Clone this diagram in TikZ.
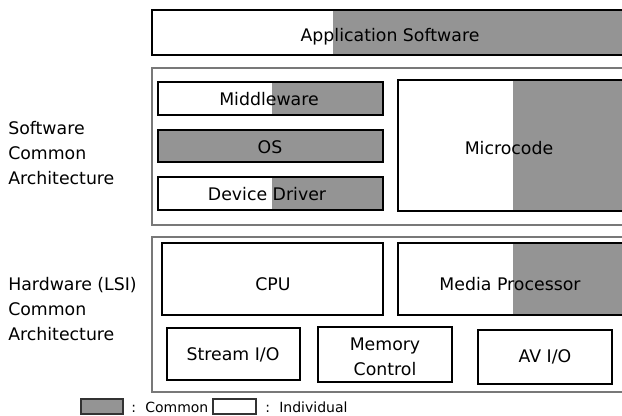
\documentclass[tikz,border=0pt]{standalone}
\usepackage{fontspec}
\setmainfont{DejaVu Sans}
\usetikzlibrary{fit}
\definecolor{cgray}{RGB}{148,148,148}
\definecolor{framegray}{RGB}{120,120,120}
\begin{document}
\begin{tikzpicture}[x=0.75pt,y=-0.75pt,
  box/.style={draw=black, line width=2pt, inner sep=0pt},
  txt/.style={inner sep=0pt, font=\fontsize{13}{18.5}\selectfont, align=center},
  outerbox/.style={draw=framegray, line width=1.1pt, inner sep=0pt},
  sharefill/.style={fill=cgray},
  lbl/.style={font=\fontsize{13}{18.75}\selectfont, align=left, anchor=west, inner sep=0pt},
  leg/.style={font=\fontsize{10.5}{12}\selectfont, anchor=west, inner sep=0pt},
  legbox/.style={draw=black!80, line width=0.8pt, inner sep=0pt}]
\useasboundingbox (0,0) rectangle (622,416);

% Application software
\fill[sharefill] (333,10) rectangle (626,55);
\node[box, fit={(152,10) (626,55)}] (app) {};
\node[txt] at (390,37) (apptext) {Application Software};

% Software common architecture
\node[outerbox, fit={(152,68) (626,225)}] (sw) {};
\fill[sharefill] (272,82) rectangle (383,115);
\node[box, fit={(158,82) (383,115)}] (mw) {};
\node[txt] at (269,99) (mwtext) {Middleware};
\fill[sharefill] (158,130) rectangle (383,162);
\node[box, fit={(158,130) (383,162)}] (os) {};
\node[txt] at (270,147) (ostext) {OS};
\fill[sharefill] (272,177) rectangle (383,210);
\node[box, fit={(158,177) (383,210)}] (dd) {};
\node[txt] at (267,194) (ddtext) {Device Driver};
\fill[sharefill] (513,80) rectangle (626,211);
\node[box, fit={(398,80) (626,211)}] (mc) {};
\node[txt] at (509,148) (mctext) {Microcode};

% Hardware common architecture
\node[outerbox, fit={(152,237) (626,392)}] (hw) {};
\node[box, fit={(162,243) (383,315)}] (cpu) {};
\node[txt] at (273,284) (cputext) {CPU};
\fill[sharefill] (513,243) rectangle (626,315);
\node[box, fit={(398,243) (626,315)}] (mp) {};
\node[txt] at (510,284) (mptext) {Media Processor};
\node[box, fit={(167,328) (300,380)}] (sio) {};
\node[txt] at (233,355) (siotext) {Stream I/O};
\node[box, fit={(318,327) (452,382)}] (mem) {};
\node[txt] at (385,357) (memtext) {Memory\\Control};
\node[box, fit={(478,330) (612,384)}] (av) {};
\node[txt] at (545,357) (avtext) {AV I/O};

% Left labels
\node[lbl] at (8,153) (swl) {Software\\Common\\Architecture};
\node[lbl] at (8,309) (hwl) {Hardware (LSI)\\Common\\Architecture};

% Legend
\node[legbox, fill=cgray, fit={(81,399) (123,414)}] (lc) {};
\node[leg] at (131,407) (lct) {:\hspace{7pt}Common};
\node[legbox, fit={(213,399) (256,414)}] (li) {};
\node[leg] at (265,407) (lit) {:\hspace{7pt}Individual};
\end{tikzpicture}
\end{document}
